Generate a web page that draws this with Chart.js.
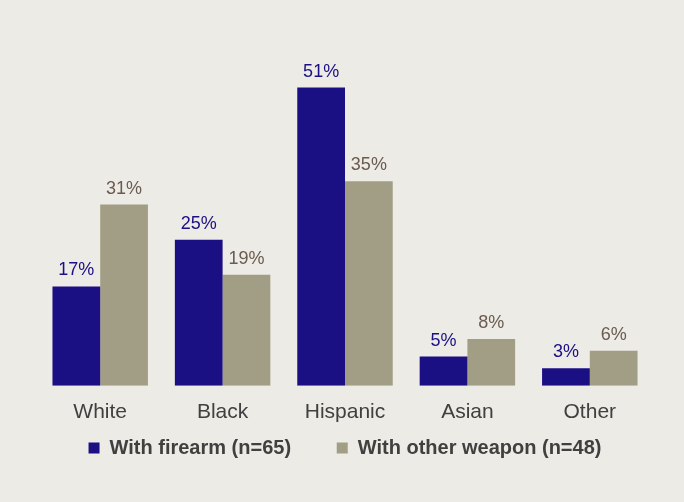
<!DOCTYPE html>
<html>
<head>
<meta charset="utf-8">
<script src="https://cdn.jsdelivr.net/npm/chart.js@4"></script>
<style>
  html, body { margin: 0; padding: 0; background: #EDEBE6; }
  #wrap { width: 684px; height: 502px; position: relative; }
</style>
</head>
<body>
<div id="wrap"><canvas id="c"></canvas></div>
<script>
// Race/ethnicity categories and share of each group (%)
const categories   = ["White", "Black", "Hispanic", "Asian", "Other"];
const withFirearm  = [17, 25, 51, 5, 3];
const withOther    = [31, 19, 35, 8, 6];
const seriesNames  = ["With firearm (n=65)", "With other weapon (n=48)"];

const NAVY  = "#1B0F84";
const KHAKI = "#A29E86";
const LABEL_COLORS = ["#1B0F84", "#6A5A4F"];
const FONT = "'Liberation Sans', Arial, sans-serif";

// Percent labels above each bar (no datalabels plugin available offline)
const barLabels = {
  id: "barLabels",
  afterDatasetsDraw(chart) {
    const ctx = chart.ctx;
    ctx.save();
    ctx.font = "18px " + FONT;
    ctx.textAlign = "center";
    ctx.textBaseline = "bottom";
    chart.data.datasets.forEach((ds, di) => {
      ctx.fillStyle = LABEL_COLORS[di];
      chart.getDatasetMeta(di).data.forEach((bar, i) => {
        ctx.fillText(ds.data[i] + "%", bar.x, bar.y - 7);
      });
    });
    ctx.restore();
  }
};

new Chart(document.getElementById("c"), {
  type: "bar",
  data: {
    labels: categories,
    datasets: [
      { label: seriesNames[0], data: withFirearm, backgroundColor: NAVY },
      { label: seriesNames[1], data: withOther,   backgroundColor: KHAKI }
    ]
  },
  options: {
    responsive: true,
    maintainAspectRatio: false,
    animation: false,
    datasets: { bar: { categoryPercentage: 0.78, barPercentage: 1.0 } },
    layout: { padding: { top: 35, left: 39, right: 33, bottom: 34 } },
    plugins: {
      legend: {
        position: "bottom",
        labels: {
          color: "#404040",
          font: { family: FONT, size: 20, weight: "bold" },
          boxWidth: 11,
          boxHeight: 11,
          padding: 10,
          // wider gap between the two items than the vertical padding allows
          generateLabels(chart) {
            const items = Chart.defaults.plugins.legend.labels.generateLabels(chart);
            items[0].text += "\u2003\u2002\u2009\u200A";
            return items;
          }
        }
      },
      tooltip: { enabled: false }
    },
    scales: {
      x: {
        grid: { display: false },
        border: { display: false },
        ticks: {
          color: "#404040",
          padding: 6,
          font: { family: FONT, size: 21 }
        },
        // tighten the gap between category labels and the legend
        afterFit(scale) { scale.height -= 3; }
      },
      y: {
        display: false,
        min: 0,
        max: 60
      }
    }
  },
  plugins: [barLabels]
});
</script>
</body>
</html>
